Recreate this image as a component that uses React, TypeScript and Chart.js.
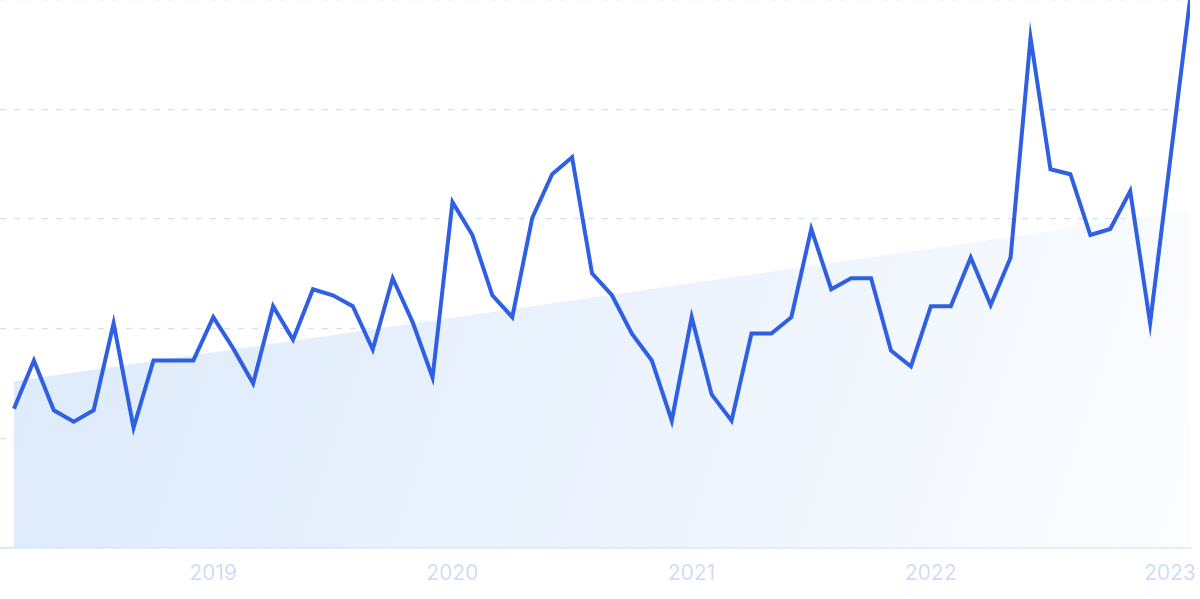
import React, { useEffect, useRef } from "react";
import { Chart, registerables } from "chart.js";

Chart.register(...registerables);

// Monthly values, Mar 2018 .. Feb 2023 (relative interest, 0–100)
const months: string[] = [
  "2018-03","2018-04","2018-05","2018-06","2018-07","2018-08","2018-09","2018-10","2018-11","2018-12",
  "2019-01","2019-02","2019-03","2019-04","2019-05","2019-06","2019-07","2019-08","2019-09","2019-10","2019-11","2019-12",
  "2020-01","2020-02","2020-03","2020-04","2020-05","2020-06","2020-07","2020-08","2020-09","2020-10","2020-11","2020-12",
  "2021-01","2021-02","2021-03","2021-04","2021-05","2021-06","2021-07","2021-08","2021-09","2021-10","2021-11","2021-12",
  "2022-01","2022-02","2022-03","2022-04","2022-05","2022-06","2022-07","2022-08","2022-09","2022-10","2022-11","2022-12",
  "2023-01","2023-02",
];

const values: number[] = [
  25.4, 34.2, 25.1, 23.0, 25.1, 41.0, 21.9, 34.2, 34.2, 34.2,
  42.1, 36.4, 30.0, 44.1, 38.0, 47.2, 46.1, 44.1, 36.2, 49.2, 41.2, 31.1,
  63.1, 57.1, 46.1, 42.1, 60.2, 68.2, 71.3, 50.1, 46.1, 39.1, 34.2, 23.2,
  42.1, 28.0, 23.2, 39.1, 39.1, 42.1, 58.2, 47.2, 49.2, 49.2, 36.0, 33.1,
  44.1, 44.1, 53.0, 44.3, 53.0, 93.1, 69.1, 68.2, 57.1, 58.2, 65.1, 41.0,
  70.6, 100,
];

// Linear trend (start and end values)
const trendStart = 30.4;
const trendEnd = 61.5;

const yearLabels: string[] = ["2019", "2020", "2021", "2022", "2023"];

export default function App() {
  const ref = useRef<HTMLCanvasElement | null>(null);

  useEffect(() => {
    const canvas = ref.current;
    if (!canvas) return;
    const yearIdx = yearLabels.map((y) => months.indexOf(y + "-01"));
    const lastIdx = months.length - 1;

    const chart = new Chart(canvas, {
      type: "line",
      data: {
        datasets: [
          {
            label: "Interest",
            data: values.map((v, i) => ({ x: i, y: v })),
            borderColor: "#2f5fe3",
            borderWidth: 4,
            pointRadius: 0,
            tension: 0,
            fill: false,
            order: 0,
            borderJoinStyle: "miter",
          },
          {
            label: "Trend",
            data: [
              { x: 0, y: trendStart },
              { x: lastIdx, y: trendEnd },
            ],
            borderWidth: 0,
            pointRadius: 0,
            fill: "origin",
            order: 1,
            backgroundColor: (ctx: any) => {
              const { chart } = ctx;
              const area = chart.chartArea;
              if (!area) return "rgba(220,233,250,1)";
              const g = chart.ctx.createLinearGradient(area.left, area.top + 150, area.right, area.bottom);
              g.addColorStop(0, "rgba(220,234,251,1)");
              g.addColorStop(0.55, "rgba(236,243,253,1)");
              g.addColorStop(1, "rgba(252,253,255,1)");
              return g;
            },
          },
        ],
      },
      options: {
        animation: false,
        responsive: false,
        maintainAspectRatio: false,
        layout: { padding: { left: 0, right: 10, top: 0, bottom: 0 } },
        plugins: { legend: { display: false }, tooltip: { enabled: false } },
        scales: {
          x: {
            type: "linear",
            min: -0.7,
            max: lastIdx,
            grid: { display: false, drawTicks: false },
            border: { display: true, color: "#d3e3f8", width: 1.5 },
            afterBuildTicks: (axis: any) => {
              axis.ticks = yearIdx.map((v) => ({ value: v }));
            },
            afterFit: (axis: any) => {
              axis.paddingLeft = 0;
              axis.paddingRight = 0;
            },
            ticks: {
              autoSkip: false,
              maxRotation: 0,
              padding: 13,
              color: "#d0dcf6",
              font: { family: "Inter", size: 21 },
              callback: (v: any) => {
                const k = yearIdx.indexOf(Number(v));
                return k >= 0 ? yearLabels[k] : "";
              },
            },
          },
          y: {
            min: 0,
            max: 100,
            ticks: { display: false, stepSize: 20 },
            border: { display: false, dash: [6, 8] },
            grid: { color: "#d3e2fa", lineWidth: 1.3, drawTicks: false },
          },
        },
      },
    });
    return () => chart.destroy();
  }, []);

  return (
    <div style={{ position: "absolute", left: 0, top: 0, width: 1200, height: 599, background: "#fff" }}>
      <canvas ref={ref} width={1200} height={599} style={{ width: 1200, height: 599, display: "block" }} />
    </div>
  );
}
